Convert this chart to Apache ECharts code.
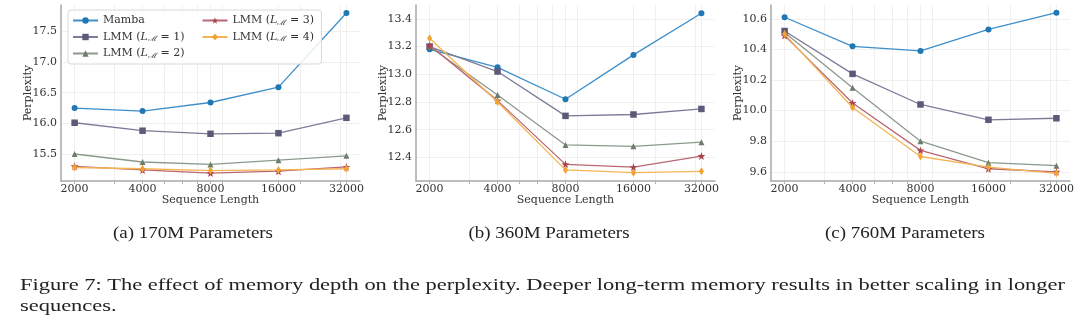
<!DOCTYPE html>
<html>
<head>
<meta charset="utf-8">
<script src="https://cdn.jsdelivr.net/npm/echarts@6/dist/echarts.min.js"></script>
<style>html,body{margin:0;padding:0;background:#fff;}#c{width:1080px;height:324px;}</style>
</head>
<body>
<div id="c"></div>
<script>
// ---- data ----
const xTicks = [2000, 4000, 8000, 16000, 32000];
const xMinorTicks = [3000, 5000, 6000, 7000, 9000, 20000, 30000];
const seriesNames = ['Mamba', 'LMM (L_M = 1)', 'LMM (L_M = 2)', 'LMM (L_M = 3)', 'LMM (L_M = 4)'];

const m170_mamba = [16.25, 16.20, 16.34, 16.59, 17.80];
const m170_lmm1  = [16.01, 15.88, 15.83, 15.84, 16.09];
const m170_lmm2  = [15.50, 15.37, 15.33, 15.40, 15.47];
const m170_lmm3  = [15.30, 15.24, 15.19, 15.22, 15.29];
const m170_lmm4  = [15.28, 15.26, 15.23, 15.24, 15.26];

const m360_mamba = [13.18, 13.05, 12.82, 13.14, 13.44];
const m360_lmm1  = [13.20, 13.02, 12.70, 12.71, 12.75];
const m360_lmm2  = [13.20, 12.85, 12.49, 12.48, 12.51];
const m360_lmm3  = [13.21, 12.81, 12.35, 12.33, 12.41];
const m360_lmm4  = [13.26, 12.80, 12.31, 12.29, 12.30];

const m760_mamba = [10.61, 10.42, 10.39, 10.53, 10.64];
const m760_lmm1  = [10.52, 10.24, 10.04, 9.94, 9.95];
const m760_lmm2  = [10.51, 10.15, 9.80, 9.66, 9.64];
const m760_lmm3  = [10.49, 10.05, 9.74, 9.62, 9.60];
const m760_lmm4  = [10.50, 10.02, 9.70, 9.63, 9.59];

const yTicks170 = [15.5, 16.0, 16.5, 17.0, 17.5];
const yTicks360 = [12.4, 12.6, 12.8, 13.0, 13.2, 13.4];
const yTicks760 = [9.6, 9.8, 10.0, 10.2, 10.4, 10.6];

const subCaptions = ['(a) 170M Parameters', '(b) 360M Parameters', '(c) 760M Parameters'];
const captionLine1 = 'Figure 7: The effect of memory depth on the perplexity. Deeper long-term memory results in better scaling in longer';
const captionLine2 = 'sequences.';

// ---- styles ----
const STAR = 'path://M0,-10 L2.35,-3.24 L9.51,-3.09 L3.8,1.24 L5.88,8.09 L0,4 L-5.88,8.09 L-3.8,1.24 L-9.51,-3.09 L-2.35,-3.24 Z';
const styles = [
  {color: '#1f77b4', line: '#3d8fcb', symbol: 'circle', size: 6},
  {color: '#5b5a78', line: '#7d7c98', symbol: 'rect', size: 6.5},
  {color: '#6b7e6b', line: '#8c9a8c', symbol: 'triangle', size: 6},
  {color: '#a8434f', line: '#b86872', symbol: STAR, size: 8},
  {color: '#f2a22f', line: '#f4b454', symbol: 'diamond', size: [5, 8]}
];
const SERIF = '"DejaVu Serif", serif';
const CAPFONT = '16px "Liberation Serif"';

const panels = [
  {left: 61, data: [m170_mamba, m170_lmm1, m170_lmm2, m170_lmm3, m170_lmm4], yTicks: yTicks170, min: 15.06, max: 17.93},
  {left: 416, data: [m360_mamba, m360_lmm1, m360_lmm2, m360_lmm3, m360_lmm4], yTicks: yTicks360, min: 12.23, max: 13.50},
  {left: 771, data: [m760_mamba, m760_lmm1, m760_lmm2, m760_lmm3, m760_lmm4], yTicks: yTicks760, min: 9.54, max: 10.69}
];

const grid = [], xAxis = [], yAxis = [], series = [];
panels.forEach((p, pi) => {
  grid.push({left: p.left, top: 5, width: 299, height: 176, containLabel: false});
  xAxis.push({
    type: 'log', logBase: 2, gridIndex: pi,
    min: 1741, max: 36758,
    name: 'Sequence Length', nameLocation: 'middle', nameGap: 14, nameMoveOverlap: false,
    nameTextStyle: {fontFamily: SERIF, fontSize: 11, color: '#333', verticalAlign: 'top'},
    axisLine: {show: true, lineStyle: {color: '#a8a8a8', width: 1.5}},
    axisTick: {show: true, length: 3, lineStyle: {color: '#b0b0b0'}, customValues: xTicks.concat(xMinorTicks)},
    axisLabel: {customValues: xTicks, margin: 3, fontFamily: SERIF, fontSize: 11, color: '#333',
      formatter: v => String(Math.round(v))},
    splitLine: {show: true, lineStyle: {color: '#ececec', width: 0.8}},
    minorTick: {show: false}
  });
  yAxis.push({
    type: 'value', gridIndex: pi, min: p.min, max: p.max,
    name: 'Perplexity', nameLocation: 'middle', nameGap: 27, nameMoveOverlap: false,
    nameTextStyle: {fontFamily: SERIF, fontSize: 11, color: '#333'},
    axisLine: {show: true, lineStyle: {color: '#a8a8a8', width: 1.5}},
    axisTick: {show: false, customValues: p.yTicks},
    axisLabel: {customValues: p.yTicks, margin: 4, fontFamily: SERIF, fontSize: 11, color: '#333',
      formatter: v => v.toFixed(1)},
    splitLine: {show: true, lineStyle: {color: '#ececec', width: 0.8}}
  });
  p.data.forEach((vals, si) => {
    const st = styles[si];
    series.push({
      type: 'line', name: seriesNames[si], xAxisIndex: pi, yAxisIndex: pi,
      data: xTicks.map((x, i) => [x, vals[i]]),
      symbol: st.symbol, symbolSize: st.size, showSymbol: true,
      itemStyle: {color: st.color},
      lineStyle: {color: st.line, width: 1.3},
      z: 2 + si, animation: false
    });
  });
});

function richName(name) {
  if (name.indexOf('L_M') < 0) return '{n|' + name + '}';
  const parts = name.split('L_M');
  return '{n|' + parts[0] + '}{i|L}{s|ℳ}{n|' + parts[1] + '}';
}

// measure caption widths to fit the reference text spans
const ctx = document.createElement('canvas').getContext('2d');
ctx.font = CAPFONT;
const capScale = 1045 / ctx.measureText(captionLine1).width;
const subScale = 160 / ctx.measureText(subCaptions[0]).width;

const graphic = [];
const subCenters = [193, 549, 905];
subCaptions.forEach((t, i) => {
  graphic.push({type: 'text', x: subCenters[i], y: 234, scaleX: subScale,
    style: {text: t, font: CAPFONT, fill: '#222', textAlign: 'center', textVerticalAlign: 'middle'}});
});
graphic.push({type: 'text', x: 20, y: 286, scaleX: capScale,
  style: {text: captionLine1, font: CAPFONT, fill: '#222', textAlign: 'left', textVerticalAlign: 'middle'}});
graphic.push({type: 'text', x: 20, y: 307, scaleX: capScale,
  style: {text: captionLine2, font: CAPFONT, fill: '#222', textAlign: 'left', textVerticalAlign: 'middle'}});

const chart = echarts.init(document.getElementById('c'), null, {renderer: 'canvas'});
chart.setOption({
  backgroundColor: '#fff',
  animation: false,
  grid, xAxis, yAxis, series, graphic,
  legend: {
    orient: 'vertical', left: 68, top: 10, height: 48,
    padding: [4, 5, 4, 4], itemGap: 3.5, itemWidth: 25, itemHeight: 8,
    borderColor: '#d8d8d8', borderWidth: 1, borderRadius: 3, backgroundColor: 'rgba(255,255,255,0.85)',
    data: seriesNames.map((n, i) => ({name: n, textStyle: {width: i < 3 ? 95 : 84}})),
    formatter: richName,
    textStyle: {
      fontFamily: SERIF, fontSize: 11, color: '#333', lineHeight: 13,
      rich: {
        n: {fontFamily: SERIF, fontSize: 11, color: '#333'},
        i: {fontFamily: SERIF, fontStyle: 'italic', fontSize: 11, color: '#333'},
        s: {fontFamily: SERIF, fontStyle: 'italic', fontSize: 7.5, color: '#333', verticalAlign: 'bottom', padding: [4, 0, 0, 0]}
      }
    }
  }
});
</script>
</body>
</html>
